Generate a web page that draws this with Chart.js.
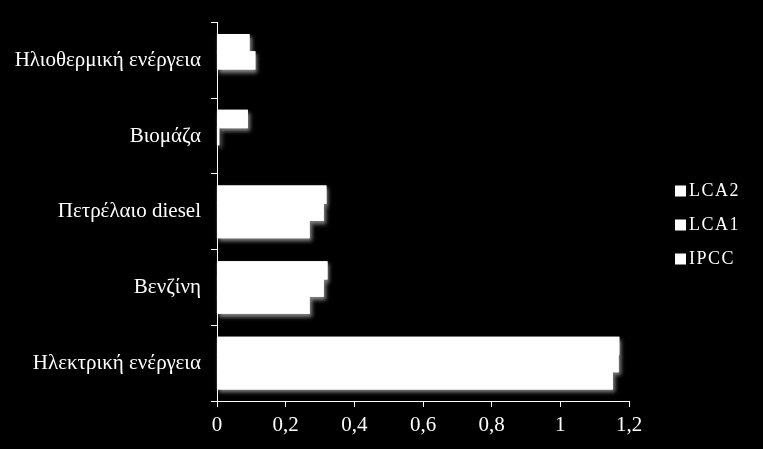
<!DOCTYPE html>
<html>
<head>
<meta charset="utf-8">
<script src="https://cdn.jsdelivr.net/npm/chart.js@4/dist/chart.umd.min.js"></script>
<style>
  body { margin: 0; background: #000; }
  canvas { display: block; }
</style>
</head>
<body>
<canvas id="energyChart" width="763" height="449"></canvas>
<script>
// categories, top to bottom
const categories = ['Ηλιοθερμική ενέργεια', 'Βιομάζα', 'Πετρέλαιο diesel', 'Βενζίνη', 'Ηλεκτρική ενέργεια'];

// series values
const lca2 = [0.093, 0.088, 0.317, 0.32, 1.17];
const lca1 = [0.11, 0.005, 0.309, 0.309, 1.168];
const ipcc = [0, 0, 0.268, 0.268, 1.151];

const seriesNames = ['LCA2', 'LCA1', 'IPCC'];
const xTicks = [0, 0.2, 0.4, 0.6, 0.8, 1, 1.2];

const serif = "'Liberation Serif', 'Times New Roman', serif";

// shadow pass first, then the normal bars go on top so the
// shadow only shows round the outside of each group
const barShadow = {
    id: 'barShadow',
    beforeDatasetsDraw(chart) {
        const ctx = chart.ctx;
        ctx.save();
        ctx.shadowColor = 'rgba(150,150,150,0.9)';
        ctx.shadowBlur = 4;
        ctx.shadowOffsetX = 2;
        ctx.shadowOffsetY = 3;
        chart.getSortedVisibleDatasetMetas().forEach(meta => {
            meta.data.forEach(bar => {
                if (Math.abs(bar.x - bar.base) < 0.5) return; // nothing for zero values
                bar.draw(ctx);
            });
        });
        ctx.restore();
    }
};

// legend drawn by hand so it sits away from the plot
const sideLegend = {
    id: 'sideLegend',
    afterDraw(chart) {
        const ctx = chart.ctx;
        const names = chart.data.datasets.map(d => d.label);
        const step = 34;
        const midY = chart.height / 2;
        ctx.save();
        ctx.font = '18px ' + serif;
        ctx.textBaseline = 'middle';
        if ('letterSpacing' in ctx) ctx.letterSpacing = '1.5px';
        names.forEach((name, i) => {
            const y = midY + (i - (names.length - 1) / 2) * step;
            ctx.fillStyle = '#fff';
            ctx.fillRect(675, y - 5, 11, 11);
            ctx.fillText(name, 689, y + 1);
        });
        ctx.restore();
    }
};

new Chart(document.getElementById('energyChart'), {
    type: 'bar',
    data: {
        labels: categories,
        datasets: [
            { label: seriesNames[0], data: lca2 },
            { label: seriesNames[1], data: lca1 },
            { label: seriesNames[2], data: ipcc }
        ].map(ds => Object.assign(ds, {
            backgroundColor: '#ffffff',
            borderWidth: 0,
            inflateAmount: 0.6,
            barPercentage: 1,
            categoryPercentage: 0.68
        }))
    },
    options: {
        indexAxis: 'y',
        responsive: false,
        animation: false,
        layout: { padding: { top: 22, right: 134, bottom: 0, left: 0 } },
        plugins: {
            legend: { display: false },
            tooltip: { enabled: false }
        },
        scales: {
            x: {
                min: 0,
                max: 1.2,
                afterBuildTicks(scale) {
                    scale.ticks = xTicks.map(v => ({ value: v }));
                },
                afterFit(scale) { scale.height = 48; },
                border: { color: '#fff', width: 1 },
                grid: { drawOnChartArea: false, color: '#fff', tickLength: 6 },
                ticks: {
                    color: '#fff',
                    padding: 6,
                    font: { family: serif, size: 21 },
                    callback: v => String(v).replace('.', ',')
                }
            },
            y: {
                afterFit(scale) { scale.width = 217; },
                border: { color: '#fff', width: 1 },
                grid: { drawOnChartArea: false, color: '#fff', tickLength: 6 },
                ticks: {
                    color: '#fff',
                    padding: 10,
                    font: { family: serif, size: 21 }
                }
            }
        }
    },
    plugins: [barShadow, sideLegend]
});
</script>
</body>
</html>
